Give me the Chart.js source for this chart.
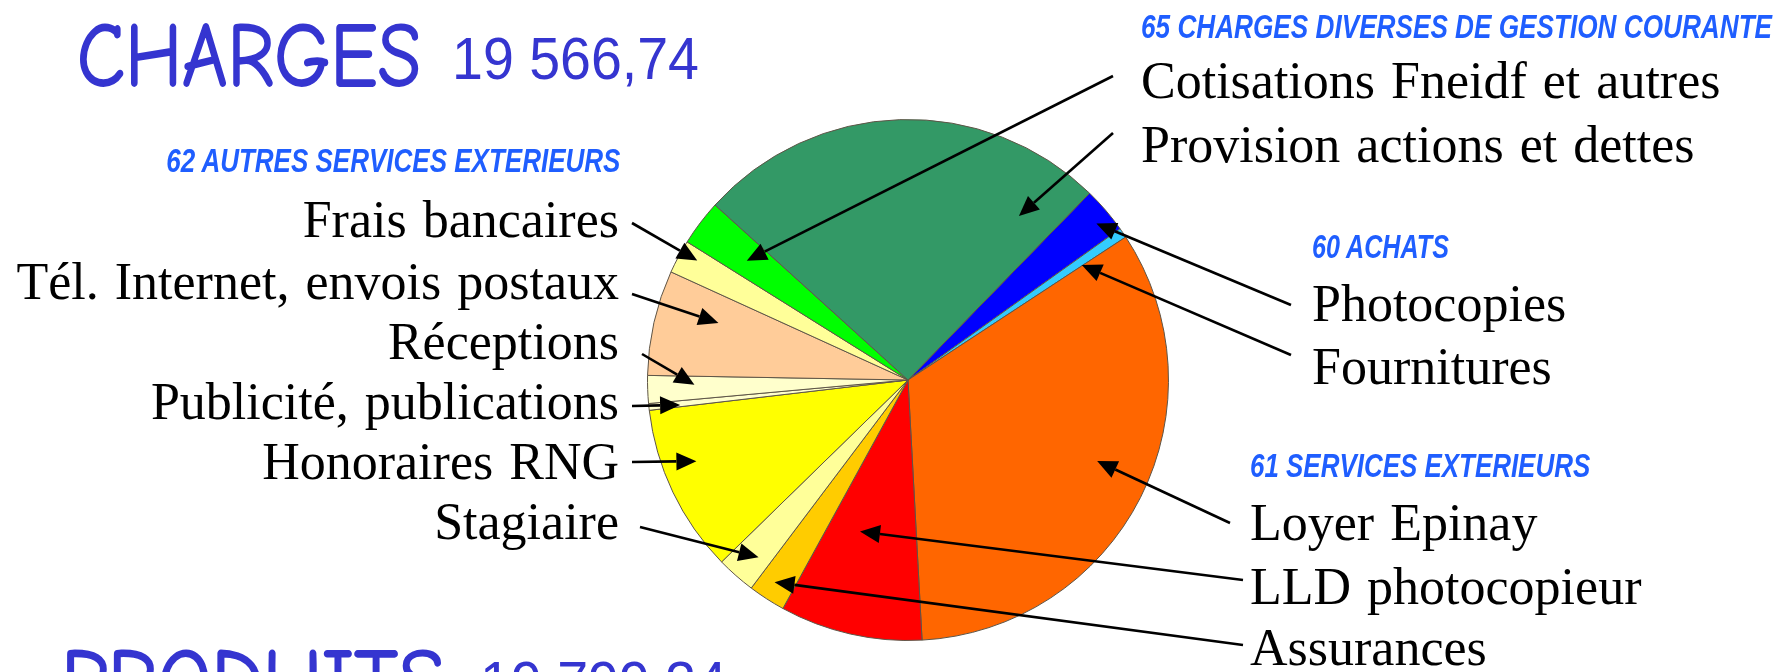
<!DOCTYPE html>
<html lang="fr">
<head>
<meta charset="UTF-8">
<title>Charges 19 566,74</title>
<script src="https://cdn.jsdelivr.net/npm/chart.js"></script>
<style>
  html, body { margin: 0; padding: 0; background: #fff; }
  body { width: 1780px; height: 672px; position: relative; overflow: hidden; }
  #pie { position: absolute; left: 0; top: 0; }
  .txt { position: absolute; white-space: nowrap; line-height: 1; }
  .lbl { font-family: "Liberation Serif", "Times New Roman", serif; font-size: 52px; color: #000; word-spacing: 3px; }
  .grp { font-family: "Liberation Sans", Arial, sans-serif; font-weight: bold; font-style: italic; font-size: 33px; color: #1f5eff; }
  .tot { font-family: "Comic Sans MS", "Comic Neue", Lato, sans-serif; font-size: 92px; color: #3535d0; -webkit-text-stroke: 1.8px #3535d0; }
  .num { font-family: "Liberation Sans", Arial, sans-serif; font-size: 59px; color: #3535d0; }
</style>
</head>

<body>
  <canvas id="pie" width="1780" height="672"></canvas>

  <script>
    // ----- data (slices clockwise, starting at the blue "Photocopies" slice)
    const labels = [
      'Photocopies', 'Fournitures',
      'Loyer Epinay', 'LLD photocopieur', 'Assurances',
      'Stagiaire', 'Honoraires RNG', 'Publicité, publications', 'Réceptions',
      'Tél. Internet, envois postaux', 'Frais bancaires',
      'Cotisations Fneidf et autres', 'Provision actions et dettes'
    ];
    const values = [560, 120, 6533, 1728, 451, 473, 2044, 82, 337, 1277, 408, 554, 5000];
    const colors = [
      '#0000ff', '#33ccff',
      '#ff6600', '#ff0000', '#ffcc00',
      '#ffff99', '#ffff00', '#ffffcc', '#ffffcc',
      '#ffcc99', '#ffff99',
      '#00ff00', '#339966'
    ];
    const groupTitles = [
      '65 CHARGES  DIVERSES  DE GESTION COURANTE',
      '60 ACHATS',
      '61 SERVICES  EXTERIEURS',
      '62 AUTRES  SERVICES  EXTERIEURS'
    ];
    const totalNames = ['CHARGES', 'PRODUITS'];
    const totalAmounts = ['19 566,74', '19 799,34'];

    // ----- layout (page pixels); side 'l' = text ends at x, 'r' = text starts at x
    const labelPos = [
      { x: 1312, y: 322, side: 'r', tail: [1291, 305], tip: [0.59, 0.94] },
      { x: 1312, y: 385, side: 'r', tail: [1291, 355], tip: [0.90, 0.80] },
      { x: 1250, y: 541, side: 'r', tail: [1230, 523], tip: [0.47, 0.79] },
      { x: 1250, y: 605, side: 'r', tail: [1243, 580], tip: [0.65, 0.61] },
      { x: 1250, y: 666, side: 'r', tail: [1243, 645], tip: [0.57, 0.93] },
      { x: 619, y: 540, side: 'l', tail: [640, 527], tip: [0.36, 0.89] },
      { x: 619, y: 480, side: 'l', tail: [632, 462], tip: [0.62, 0.87] },
      { x: 619, y: 420, side: 'l', tail: [632, 406], tip: [0.30, 0.88] },
      { x: 619, y: 360, side: 'l', tail: [642, 354], tip: [0.63, 0.82] },
      { x: 619, y: 300, side: 'l', tail: [632, 294], tip: [0.67, 0.76] },
      { x: 619, y: 238, side: 'l', tail: [632, 223], tip: [0.67, 0.93] },
      { x: 1141, y: 99, side: 'r', tail: [1113, 76], tip: [0.44, 0.77] },
      { x: 1141, y: 163, side: 'r', tail: [1113, 133], tip: [0.89, 0.76] }
    ];
    const groupPos = [
      { x: 1141, y: 38, side: 'r', w: 631 },
      { x: 1312, y: 258, side: 'r', w: 137 },
      { x: 1250, y: 477, side: 'r', w: 340 },
      { x: 620, y: 172, side: 'l', w: 454 }
    ];
    const totalPos = [
      { name: [77, 80, 344], amount: [452, 80, 247] },
      { name: [61, 706, 383], amount: [480, 704, 247] }
    ];

    // baseline offset for line-height:1 boxes (ascent - half of extra leading)
    const ascent = { lbl: 0.8375, grp: 0.8465, tot: 0.76, num: 0.8465 };
    const sizes = { lbl: 52, grp: 33, tot: 92, num: 59 };

    function addText(text, cls, x, y, side, w) {
      const el = document.createElement('div');
      el.className = 'txt ' + cls;
      el.textContent = text;
      el.style.top = (y - ascent[cls] * sizes[cls]) + 'px';
      if (side === 'l') el.style.right = (1780 - x) + 'px';
      else el.style.left = x + 'px';
      document.body.appendChild(el);
      if (w) {
        // squeeze / stretch horizontally to the width seen in the picture
        const s = w / el.getBoundingClientRect().width;
        el.style.transformOrigin = side === 'l' ? 'right' : 'left';
        el.style.transform = 'scaleX(' + s.toFixed(3) + ')';
      }
    }

    labels.forEach((t, i) => addText(t, 'lbl', labelPos[i].x, labelPos[i].y, labelPos[i].side));
    groupTitles.forEach((t, i) => addText(t, 'grp', groupPos[i].x, groupPos[i].y, groupPos[i].side, groupPos[i].w));
    totalNames.forEach((t, i) => {
      const n = totalPos[i].name, a = totalPos[i].amount;
      addText(t, 'tot', n[0], n[1], 'r', n[2]);
      addText(totalAmounts[i], 'num', a[0], a[1], 'r', a[2]);
    });

    // arrows from each label to a point inside its slice
    const arrows = {
      id: 'arrows',
      afterDraw(chart) {
        const ctx = chart.ctx;
        const arcs = chart.getDatasetMeta(0).data;
        ctx.save();
        ctx.strokeStyle = '#000';
        ctx.fillStyle = '#000';
        ctx.lineWidth = 2.6;
        arcs.forEach((arc, i) => {
          const p = arc.getProps(['x', 'y', 'startAngle', 'endAngle', 'outerRadius'], true);
          const a = p.startAngle + labelPos[i].tip[0] * (p.endAngle - p.startAngle);
          const r = p.outerRadius * labelPos[i].tip[1];
          const tx = p.x + r * Math.cos(a), ty = p.y + r * Math.sin(a);
          const [sx, sy] = labelPos[i].tail;
          const d = Math.atan2(ty - sy, tx - sx);
          const len = 20, half = 9;
          const bx = tx - len * Math.cos(d), by = ty - len * Math.sin(d);
          ctx.beginPath();
          ctx.moveTo(sx, sy);
          ctx.lineTo(bx, by);
          ctx.stroke();
          ctx.beginPath();
          ctx.moveTo(tx, ty);
          ctx.lineTo(bx + half * Math.sin(d), by - half * Math.cos(d));
          ctx.lineTo(bx - half * Math.sin(d), by + half * Math.cos(d));
          ctx.closePath();
          ctx.fill();
        });
        ctx.restore();
      }
    };

    new Chart(document.getElementById('pie'), {
      type: 'pie',
      data: {
        labels: labels,
        datasets: [{
          data: values,
          backgroundColor: colors,
          borderColor: '#5e5547',
          borderWidth: 1
        }]
      },
      options: {
        responsive: false,
        animation: false,
        rotation: 44.2,
        layout: { padding: { left: 647, right: 611, top: 119, bottom: 31 } },
        plugins: {
          legend: { display: false },
          tooltip: { enabled: false }
        }
      },
      plugins: [arrows]
    });
  </script>
</body>

</html>
